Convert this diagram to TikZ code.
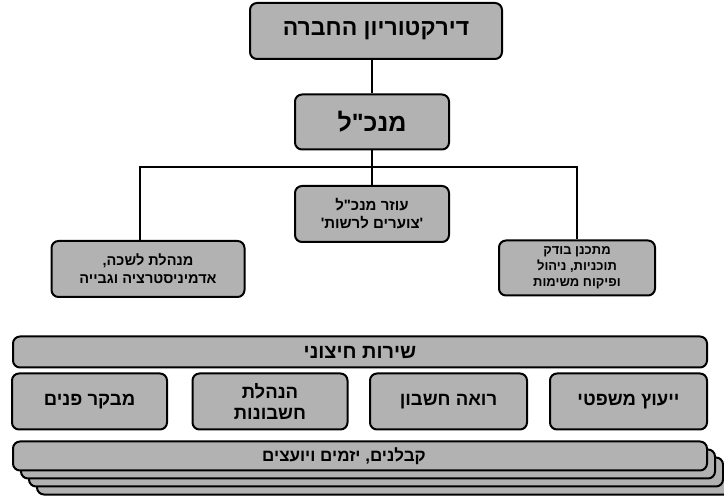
\documentclass[tikz,border=0pt]{standalone}
\usepackage{fontspec}
\TeXXeTstate=1
\newfontfamily\heb[Script=Hebrew]{Liberation Sans}
\definecolor{boxgray}{gray}{0.70}
\newcommand{\hl}[1]{\beginR #1\endR}
\tikzset{
  orgbox/.style={draw=black, line width=2pt, rounded corners=7pt, fill=boxgray,
    inner sep=0pt, align=center},
  conn/.style={draw=black, line width=1.6pt},
}
\begin{document}
\begin{tikzpicture}[x=1pt,y=-1pt]
\useasboundingbox (0,0) rectangle (724,497);
\clip (0,0) rectangle (724,497);
% top part
\node[orgbox, minimum width=252pt, minimum height=56pt, font=\heb\bfseries\fontsize{23}{26}\selectfont] (top) at (376,31) {\hl{דירקטוריון החברה}};
\node[orgbox, minimum width=154pt, minimum height=55pt, font=\heb\bfseries\fontsize{25}{28}\selectfont] (ceo) at (372,122) {\hl{מנכ"ל}};
\node[orgbox, minimum width=154pt, minimum height=56pt, font=\heb\bfseries\fontsize{15}{18}\selectfont] (assist) at (372,214) {\hl{עוזר מנכ"ל}\\\hl{'צוערים לרשות'}};
\node[orgbox, minimum width=193pt, minimum height=56pt, font=\heb\bfseries\fontsize{14.5}{18}\selectfont] (left) at (148,269) {\hl{מנהלת לשכה,}\\\hl{אדמיניסטרציה וגבייה}};
\node[orgbox, minimum width=156pt, minimum height=55pt, font=\heb\bfseries\fontsize{13}{16}\selectfont] (right) at (577,268) {\hl{מתכנן בודק}\\\hl{תוכניות, ניהול}\\\hl{ופיקוח משימות}};
\coordinate (lj) at (140,167);
\draw[conn] (ceo.north) -- (ceo.north |- top.south);
\draw[conn] (ceo.south) -- (assist.north);
\draw[conn] (lj |- left.north) -- (lj) -- (right.north |- lj) -- (right.north);
% bottom part
\node[orgbox, minimum width=694pt, minimum height=31pt, font=\heb\bfseries\fontsize{20}{22}\selectfont] (service) at (360,352) {\hl{שירות חיצוני}};
\node[orgbox, minimum width=155pt, minimum height=56pt, font=\heb\bfseries\fontsize{18.5}{21}\selectfont] (audit) at (89.5,401.5) {\hl{מבקר פנים}};
\node[orgbox, minimum width=155pt, minimum height=56pt, font=\heb\bfseries\fontsize{18.5}{21}\selectfont] (acct) at (270,401.5) {\hl{הנהלת}\\\hl{חשבונות}};
\node[orgbox, minimum width=157pt, minimum height=56pt, font=\heb\bfseries\fontsize{18.5}{21}\selectfont] (cpa) at (448.5,401.5) {\hl{רואה חשבון}};
\node[orgbox, minimum width=157pt, minimum height=56pt, font=\heb\bfseries\fontsize{18.5}{21}\selectfont] (legal) at (628.5,401.5) {\hl{ייעוץ משפטי}};
\foreach \k in {3,2,1}{
  \node[orgbox, minimum width=694pt, minimum height=29pt] (layer\k) at (360+8*\k,456+8*\k) {};
}
\node[orgbox, minimum width=694pt, minimum height=29pt] (contr) at (360,456) {};
\node[font=\heb\bfseries\fontsize{17}{20}\selectfont, inner sep=0pt] (contrtext) at ([xshift=-16pt]contr.center) {\hl{קבלנים, יזמים ויועצים}};
\end{tikzpicture}
\end{document}
